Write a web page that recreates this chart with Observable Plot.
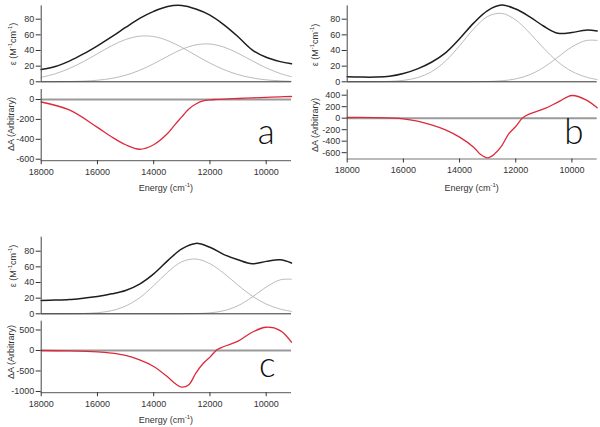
<!DOCTYPE html>
<html><head><meta charset="utf-8">
<script src="https://cdn.jsdelivr.net/npm/d3@7"></script>
<script src="https://cdn.jsdelivr.net/npm/@observablehq/plot@0.6"></script>
<style>
body{margin:0;background:#fff;}
#root{position:relative;width:600px;height:427px;overflow:hidden;font-family:"Liberation Sans",Arial,sans-serif;}
.p{position:absolute;}
.lbl{position:absolute;font-size:9px;color:#333;white-space:nowrap;line-height:1;}
.rot{transform:translate(-50%,-50%) rotate(-90deg);}
.ctr{transform:translate(-50%,-50%);}
.big{position:absolute;font-family:"Lato","DejaVu Sans",sans-serif;font-weight:300;font-size:35px;color:#111;line-height:35px;transform:translateX(-50%);}
sup{font-size:6px;vertical-align:4px;line-height:0;}
</style></head><body><div id="root"></div>
<script>
// ---- data ----
const energyTop = [18000,17500,17000,16500,16000,15500,15000,14500,14000,13500,13000,12500,12000,11500,11000,10500,10000,9500,9100];
const totalA = [15.7,19.5,26.5,35.6,46,57.3,69.4,81,90,96.3,97.5,93,85.2,72.8,57.6,40.9,31.3,25.8,23];
const band1A = [5.7,10.3,17.0,25.8,35.9,46.0,54.0,58.3,57.8,52.6,44.0,33.8,23.9,15.5,9.2,5.0,2.5,1.2,0.6];
const band2A = [0,0.1,0.3,0.8,2.0,4.3,8.4,14.7,23.1,32.7,41.5,47.2,48.3,44.3,36.4,26.9,17.8,10.6,6.5];
const totalB = [6.4,6.0,6.0,7.0,10.5,16.5,25,37,55,75,91,98,93,83,71,62,63,66,65];
const band1B = [0,0,0.1,0.5,1.8,5.3,12.9,26.5,46.0,67.5,83.5,87.4,79.0,62.2,42.7,25.5,13.3,6.1,2.9];
const band2B = [0,0,0,0,0,0,0,0,0,0.1,0.4,1.3,3.7,9.1,18.5,31.5,44.6,52.7,52.9];
const totalC = [17,17.5,18.3,20,22,25.5,29.8,38,51,68,83,90,85,75.7,69,64,67,69,65];
const band1C = [0,0,0.1,0.4,1.4,4.0,9.9,20.5,36.0,53.3,66.5,70.0,64.0,51.6,36.5,22.8,12.5,6.0,3.1];
const band2C = [0,0,0,0,0,0,0,0,0,0,0.05,0.3,1.2,4.0,10.4,21.3,34.2,43.4,44.2];

const energyDiff = [18000,17000,16000,15500,15000,14500,14000,13500,13250,13000,12750,12500,12250,12000,11750,11500,11000,10500,10000,9500,9100];
const diffA = [-25,-105,-280,-375,-455,-500,-455,-340,-255,-175,-95,-45,-15,-3,1,4,10,16,22,27,30];
const diffB = [12,10,-12,-52,-116,-203,-330,-504,-632,-690,-620,-481,-272,-145,6,75,162,278,394,319,180];
const diffC = [0,-8,-32,-65,-121,-227,-389,-648,-800,-895,-835,-550,-324,-162,16,97,227,445,567,486,202];

const energyTicks = [18000,16000,14000,12000,10000];
const epsTicks = [0,20,40,60,80];
const diffTicksA = [0,-200,-400,-600];
const diffTicksB = [400,200,0,-200,-400,-600];
const diffTicksC = [500,0,-500,-1000];
const panelLetters = ["a","b","c"];
const xLabel = "Energy (cm<sup>-1</sup>)";
const epsLabel = "ε (M<sup>-1</sup>cm<sup>-1</sup>)";
const diffLabel = "ΔA (Arbitrary)";

// ---- helpers ----
const root = document.getElementById("root");
const xDomain = [18000, 9100];
const toRows = (xs, ys) => xs.map((x, i) => ({x, y: ys[i]}));
const fmt = d => String(d);

function place(node, left, top) {
  const d = document.createElement("div");
  d.className = "p"; d.style.left = left + "px"; d.style.top = top + "px";
  d.appendChild(node); root.appendChild(d);
}
function label(html, x, y, cls) {
  const d = document.createElement("div");
  d.className = "lbl " + cls; d.innerHTML = html;
  d.style.left = x + "px"; d.style.top = y + "px";
  root.appendChild(d);
}
function letter(t, cx, top) {
  const d = document.createElement("div");
  d.className = "big"; d.textContent = t;
  d.style.left = cx + "px"; d.style.top = top + "px";
  root.appendChild(d);
}
const style = {fontFamily: '"Liberation Sans", Arial, sans-serif', fontSize: "9px", color: "#333", background: "transparent", overflow: "visible"};

function topPlot(ml, mr, h, mt, mb, yMax, total, b1, b2) {
  return Plot.plot({
    width: 300, height: h, marginLeft: ml, marginRight: mr, marginTop: mt, marginBottom: mb,
    x: {domain: xDomain, axis: null},
    y: {domain: [0, yMax], axis: null},
    style,
    marks: [
      Plot.line(toRows(energyTop, b1), {x: "x", y: "y", stroke: "#aaa", strokeWidth: 0.8, curve: "catmull-rom"}),
      Plot.line(toRows(energyTop, b2), {x: "x", y: "y", stroke: "#aaa", strokeWidth: 0.8, curve: "catmull-rom"}),
      Plot.line(toRows(energyTop, total), {x: "x", y: "y", stroke: "#1e1e1e", strokeWidth: 1.5, curve: "catmull-rom"}),
      Plot.ruleY([0], {stroke: "#333", strokeWidth: 1}),
      Plot.ruleX([xDomain[0]], {stroke: "#444", strokeWidth: 1}),
      Plot.axisY({ticks: epsTicks, tickSize: 5, tickPadding: 2, label: null, tickFormat: fmt})
    ]
  });
}
function bottomPlot(ml, mr, h, mt, mb, yDom, yTicks, diff) {
  return Plot.plot({
    width: 300, height: h, marginLeft: ml, marginRight: mr, marginTop: mt, marginBottom: mb,
    x: {domain: xDomain, axis: null},
    y: {domain: yDom, axis: null},
    style,
    marks: [
      Plot.ruleY([0], {stroke: "#9a9a9a", strokeWidth: 2}),
      Plot.line(toRows(energyDiff, diff), {x: "x", y: "y", stroke: "#dc2a3c", strokeWidth: 1.3, curve: "catmull-rom"}),
      Plot.ruleY([yDom[0]], {stroke: "#777", strokeWidth: 1.2}),
      Plot.ruleX([xDomain[0]], {stroke: "#444", strokeWidth: 1}),
      Plot.axisY({ticks: yTicks, tickSize: 5, tickPadding: 2, label: null, tickFormat: fmt}),
      Plot.axisX({ticks: energyTicks, tickSize: 4, tickPadding: 4, label: null, tickFormat: fmt})
    ]
  });
}

// panel a
place(topPlot(40.7, 9, 83.3, 5.4, 2, 97, totalA, band1A, band2A), 0, 0);
place(bottomPlot(40.7, 9, 100, 4.05, 24.8, [-615, 100], diffTicksA, diffA), 0, 85);
// panel b
place(topPlot(46.7, 3.3, 83.3, 5.4, 2, 97, totalB, band1B, band2B), 300, 0);
place(bottomPlot(46.7, 3.3, 100, 4.5, 26.5, [-710, 490], diffTicksB, diffB), 300, 85);
// panel c
place(topPlot(40.7, 9, 86, 6.7, 2.7, 97.9, totalC, band1C, band2C), 0, 230);
place(bottomPlot(40.7, 9, 100, 4.7, 23.8, [-1030, 715], diffTicksC, diffC), 0, 316);

// axis titles
label(epsLabel, 13.3, 43.5, "rot");
label(diffLabel, 11, 124, "rot");
label(xLabel, 165.9, 187.7, "ctr");
label(epsLabel, 315, 45, "rot");
label(diffLabel, 315, 125, "rot");
label(xLabel, 471.7, 188, "ctr");
label(epsLabel, 13.3, 266, "rot");
label(diffLabel, 11, 352, "rot");
label(xLabel, 165.9, 420, "ctr");

// panel letters
letter(panelLetters[0], 266.3, 112.5);
letter(panelLetters[1], 573.8, 112.5);
letter(panelLetters[2], 267.3, 346);
</script></body></html>
